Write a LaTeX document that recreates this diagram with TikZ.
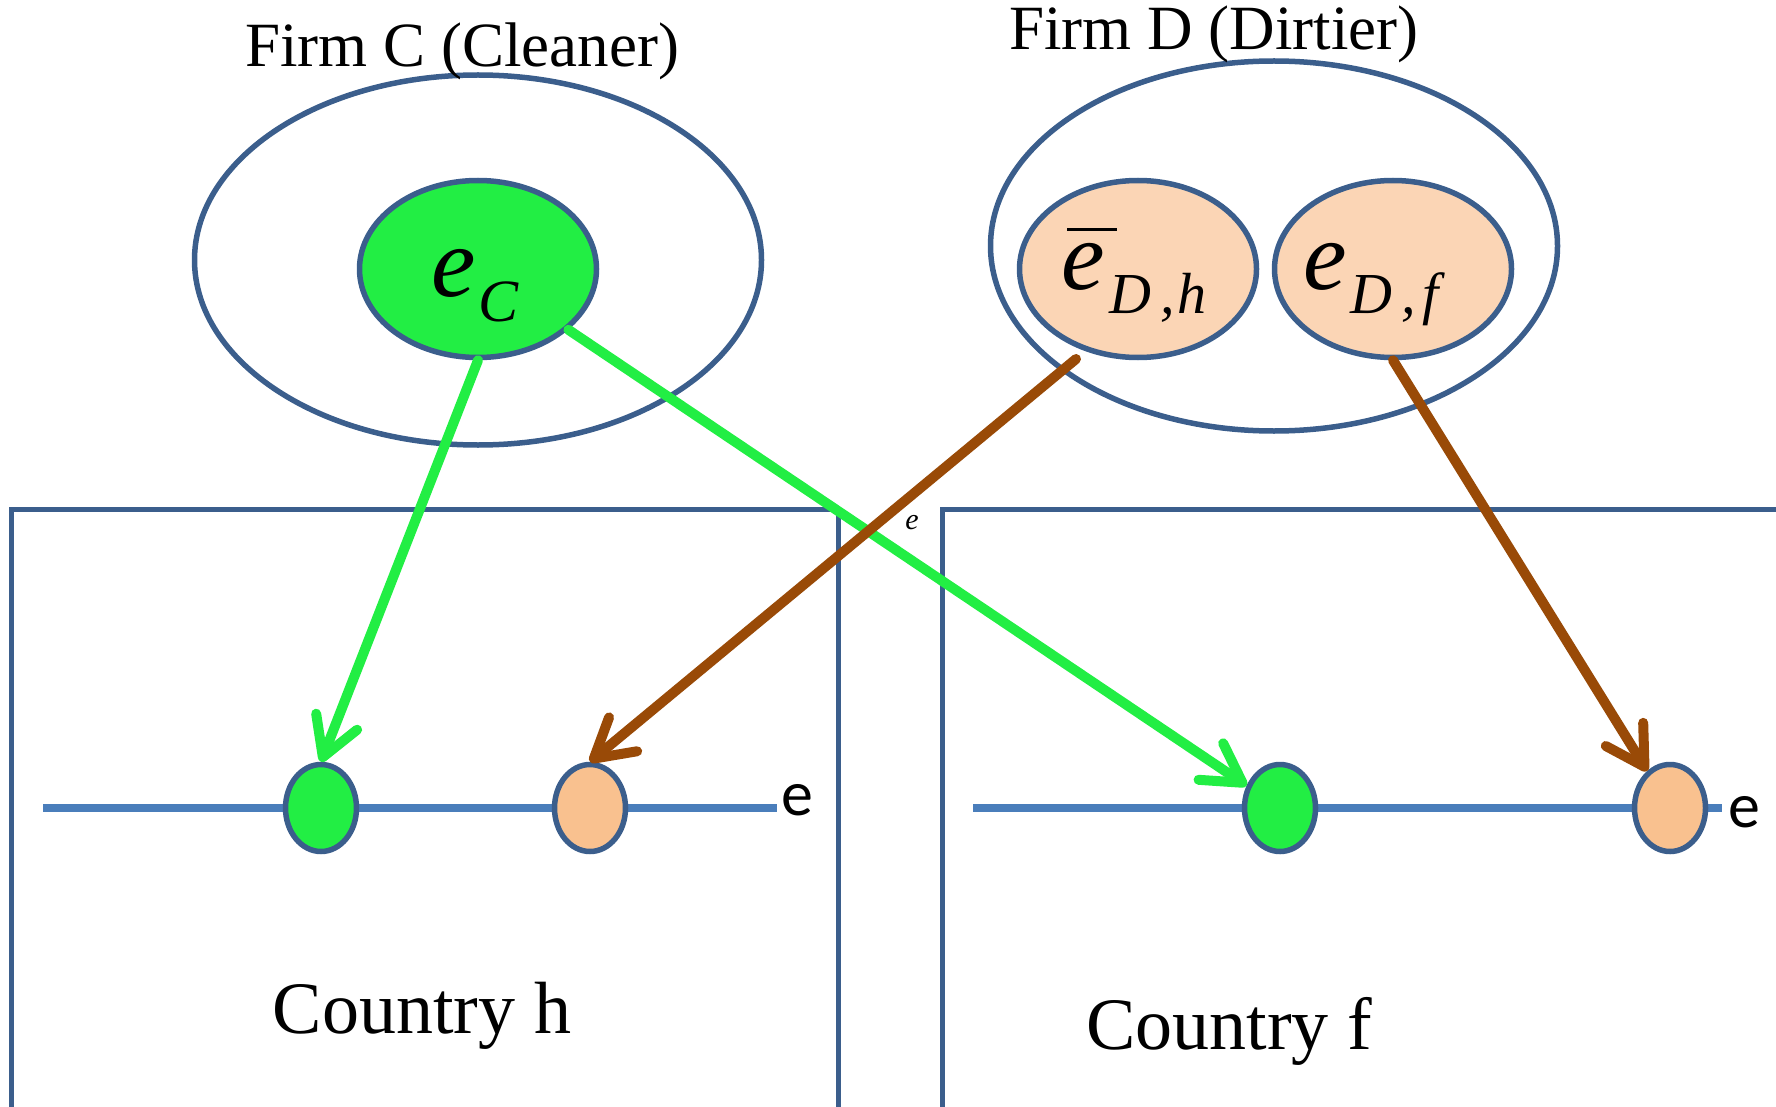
\documentclass[tikz,border=0pt]{standalone}
\usepackage{fontspec}
\setmainfont{Liberation Serif}
\newfontfamily\calib{Carlito}
\usetikzlibrary{arrows.meta,shapes.geometric}
\definecolor{outl}{HTML}{3B5E8C}
\definecolor{axisblue}{HTML}{4A7EBB}
\definecolor{grn}{HTML}{22EE44}
\definecolor{peach}{HTML}{FBD5B5}
\definecolor{orng}{HTML}{F9C18F}
\definecolor{brn}{HTML}{994A07}
\begin{document}
\begin{tikzpicture}[x=1pt,y=-1pt,
  firmell/.style={draw=outl,line width=5.5pt,ellipse,inner sep=0pt,minimum width=567pt,minimum height=370pt},
  inell/.style={draw=outl,line width=5.5pt,ellipse,inner sep=0pt,minimum width=237pt,minimum height=177pt},
  dot/.style={draw=outl,line width=5.5pt,ellipse,inner sep=0pt,minimum width=71pt,minimum height=87pt},
  boxline/.style={draw=outl,line width=5pt},
  axisline/.style={draw=axisblue,line width=8.5pt},
  arr/.style={line width=10pt,line cap=round,-{Straight Barb[length=38pt,width=44pt,round]}},
  lbl/.style={inner sep=0pt,font=\fontsize{63}{70}\selectfont},
  ctry/.style={inner sep=0pt,font=\fontsize{74}{80}\selectfont},
  axlbl/.style={inner sep=0pt,font=\calib\fontsize{64}{70}\selectfont},
  mathlbl/.style={inner sep=0pt,anchor=base west}
]
\useasboundingbox (0,0) rectangle (1776,1107);
% country boxes
\draw[boxline] (11,1120) -- (11,509) -- (838,509) -- (838,1120);
\draw[boxline] (942,1120) -- (942,509) -- (1790,509);
% axes
\coordinate (hl) at (43,808);
\coordinate (hr) at (777,808);
\coordinate (fl) at (973,808);
\coordinate (fr) at (1722,808);
\draw[axisline] (hl) -- (hr);
\draw[axisline] (fl) -- (fr);
\node[axlbl] (eh) at (797,800) {e};
\node[axlbl] (ef) at (1744,812) {e};
% firms
\node[firmell] (firmC) at (478,260) {};
\node[firmell] (firmD) at (1274,246) {};
\node[lbl] (labC) at (462,51) {Firm C (Cleaner)};
\node[lbl] (labD) at (1214,34) {Firm D (Dirtier)};
\node[inell,fill=grn] (eC) at (478,269) {};
\node[inell,fill=peach] (eDh) at (1138,269) {};
\node[inell,fill=peach] (eDf) at (1393,269) {};
\node[mathlbl] (teC) at (431,296) {\fontsize{100}{100}\selectfont\itshape e\hspace{3pt}\raisebox{-25pt}{\fontsize{60}{60}\selectfont C}};
\node[mathlbl] (teDh) at (1061,289) {\fontsize{98}{98}\selectfont\itshape\rlap{\hspace{6pt}\rule[58pt]{50pt}{3.5pt}}e\hspace{5pt}\raisebox{-24pt}{\fontsize{58}{58}\selectfont D\hspace{9pt},\hspace{2pt}h}};
\node[mathlbl] (teDf) at (1303,289) {\fontsize{98}{98}\selectfont\itshape e\hspace{4pt}\raisebox{-24pt}{\fontsize{58}{58}\selectfont D\hspace{9pt},\hspace{6pt}f}};
% country dots
\node[dot,fill=grn] (gh) at (321,808) {};
\node[dot,fill=orng] (oh) at (590,808) {};
\node[dot,fill=grn] (gf) at (1280,808) {};
\node[dot,fill=orng] (of) at (1670,808) {};
% arrows
\coordinate (b1s) at (1076,359);
\draw[arr,grn] (eC.south) -- (gh.north);
\draw[arr,grn] (eC) -- (gf);
\draw[arr,brn] (b1s) -- (oh.north);
\draw[arr,brn] (eDf.south) -- (of);
\node[inner sep=0pt,font=\fontsize{30}{30}\selectfont\itshape] (smalle) at (912,523) {e};
% country labels
\node[ctry] (ch) at (422,1016) {Country h};
\node[ctry] (cf) at (1229,1031) {Country f};
\end{tikzpicture}
\end{document}
